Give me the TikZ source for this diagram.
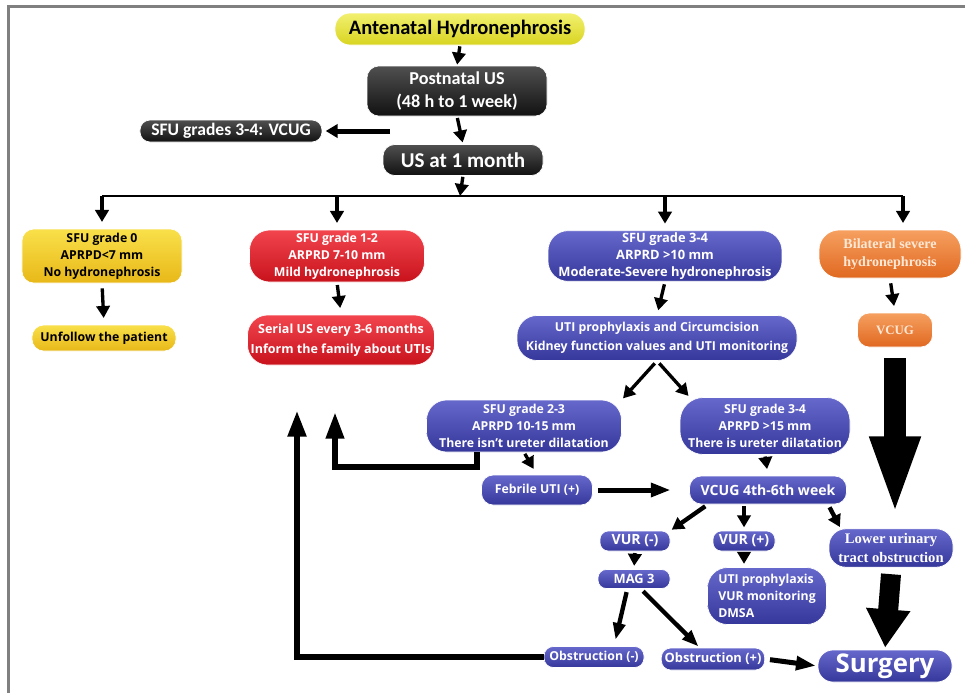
\documentclass[tikz,border=0pt]{standalone}
\usepackage{fontspec}
\setmainfont{Open Sans}
\newfontfamily\condfont{Carlito}
\newfontfamily\serfont{Liberation Serif}
\usetikzlibrary{arrows.meta}

\definecolor{bluetop}{HTML}{6668CC}
\definecolor{bluebot}{HTML}{35379A}
\definecolor{redtop}{HTML}{F2454E}
\definecolor{redbot}{HTML}{C8121C}
\definecolor{yeltop}{HTML}{F9E04A}
\definecolor{yelbot}{HTML}{E8B818}
\definecolor{antetop}{HTML}{F2F070}
\definecolor{antebot}{HTML}{D8D420}
\definecolor{oratop}{HTML}{F6A060}
\definecolor{orabot}{HTML}{E06820}
\definecolor{orapale}{HTML}{FCE8D5}
\definecolor{blktop}{HTML}{505050}
\definecolor{blkbot}{HTML}{111111}

\begin{document}
\begin{tikzpicture}[x=0.03cm,y=-0.03cm,
  box/.style={rounded corners=0.35cm, align=center, inner sep=0pt, draw=white, line width=0.6pt,
    font=\bfseries\fontsize{10.5}{14.5}\selectfont},
  bluebox/.style={box, top color=bluetop, bottom color=bluebot, text=white},
  redbox/.style={box, top color=redtop, bottom color=redbot, text=white},
  yelbox/.style={box, top color=yeltop, bottom color=yelbot, text=black},
  orabox/.style={box, top color=oratop, bottom color=orabot, text=orapale,
    font=\serfont\bfseries\fontsize{12}{15}\selectfont},
  blkbox/.style={box, top color=blktop, bottom color=blkbot, text=white,
    font=\condfont\bfseries\fontsize{15.5}{20}\selectfont},
  arr/.style={-{Triangle[length=0.36cm,width=0.4cm]}, line width=0.1cm,
    shorten <=0.15cm, shorten >=0.2cm},
  back/.style={-{Triangle[length=0.8cm,width=0.52cm]}, line width=0.2cm},
  big/.style={-{Triangle[length=2.4cm,width=1.35cm]}, line width=0.66cm},
]
\useasboundingbox (0,0) rectangle (965,693);
\draw[gray, line width=0.09cm] (965,6) -- (8,6) -- (8,693);

% top
\node[yelbox, top color=antetop, bottom color=antebot, minimum width=7.5cm, minimum height=0.96cm,
  rounded corners=0.45cm, font=\condfont\bfseries\fontsize{17.5}{19}\selectfont] (ante) at (460,29) {Antenatal Hydronephrosis};
\node[blkbox, minimum width=5.4cm, minimum height=1.5cm] (post) at (457,91) {Postnatal US\\(48 h to 1 week)};
\node[blkbox, minimum width=5.46cm, minimum height=0.66cm, rounded corners=0.3cm, font=\condfont\bfseries\fontsize{15}{17}\selectfont] (sfuv) at (231,131) {SFU grades 3-4: VCUG};
\node[blkbox, minimum width=4.8cm, minimum height=0.93cm, font=\condfont\bfseries\fontsize{18}{20}\selectfont] (usm) at (463,160) {US at 1 month};
\coordinate (lft) at (390,131);
\coordinate (bus) at (460,196);

% branches
\node[yelbox, minimum width=4.8cm, minimum height=1.62cm] (g0) at (102,256) {SFU grade 0\\APRPD<7 mm\\No hydronephrosis};
\node[yelbox, minimum width=4.32cm, minimum height=0.78cm] (unf) at (104,338) {Unfollow the patient};
\node[redbox, minimum width=5.25cm, minimum height=1.56cm, rounded corners=0.6cm] (g12) at (337,256) {SFU grade 1-2\\ARPRD 7-10 mm\\Mild hydronephrosis};
\node[redbox, minimum width=5.61cm, minimum height=1.5cm, rounded corners=0.6cm, font=\bfseries\fontsize{10.7}{17}\selectfont] (ser) at (341,340) {Serial US every 3-6 months\\Inform the family about UTIs};
\node[bluebox, minimum width=7.02cm, minimum height=1.52cm, rounded corners=0.6cm, font=\bfseries\fontsize{11}{14.5}\selectfont] (g34) at (665,256) {SFU grade 3-4\\ARPRD >10 mm\\Moderate-Severe hydronephrosis};
\node[bluebox, minimum width=8.4cm, minimum height=1.35cm, rounded corners=0.6cm, font=\bfseries\fontsize{10.5}{16}\selectfont] (uti) at (657,338) {UTI prophylaxis and Circumcision\\Kidney function values and UTI monitoring};
\node[orabox, minimum width=4.26cm, minimum height=1.44cm, rounded corners=0.6cm] (bil) at (890,254) {Bilateral severe\\hydronephrosis};
\node[orabox, minimum width=2.25cm, minimum height=1.02cm, font=\serfont\bfseries\fontsize{11}{13}\selectfont] (vcugo) at (895,330) {VCUG};
\coordinate (bilin) at ([xshift=0.39cm]bil.north);

% lower part
\node[bluebox, minimum width=5.85cm, minimum height=1.56cm, rounded corners=0.6cm] (g23) at (524,426) {SFU grade 2-3\\APRPD 10-15 mm\\There isn't ureter dilatation};
\node[bluebox, minimum width=5.1cm, minimum height=1.71cm, rounded corners=0.7cm] (g34b) at (765,426) {SFU grade 3-4\\APRPD >15 mm\\There is ureter dilatation};
\node[bluebox, minimum width=3.33cm, minimum height=0.9cm] (feb) at (537,490) {Febrile UTI (+)};
\node[bluebox, minimum width=4.71cm, minimum height=0.84cm, font=\bfseries\fontsize{12}{14}\selectfont] (vcug) at (768,490) {VCUG 4th-6th week};
\node[bluebox, minimum width=2.1cm, minimum height=0.6cm, rounded corners=0.25cm, font=\bfseries\fontsize{12}{14}\selectfont] (vurn) at (635,541) {VUR (-)};
\node[bluebox, minimum width=1.86cm, minimum height=0.6cm, rounded corners=0.25cm, font=\bfseries\fontsize{12}{14}\selectfont] (vurp) at (744,541) {VUR (+)};
\node[bluebox, minimum width=3.72cm, minimum height=1.15cm, rounded corners=0.5cm, font=\serfont\bfseries\fontsize{12.5}{15.5}\selectfont] (low) at (891,548) {Lower urinary\\tract obstruction};
\node[bluebox, minimum width=2.16cm, minimum height=0.57cm, rounded corners=0.25cm, font=\bfseries\fontsize{11}{13}\selectfont] (mag) at (634,579) {MAG 3};
\node[bluebox, minimum width=3.57cm, minimum height=1.71cm, rounded corners=0.6cm, align=left] (prop) at (767,596) {UTI prophylaxis\\VUR monitoring\\DMSA};
\node[bluebox, minimum width=3.0cm, minimum height=0.63cm, rounded corners=0.28cm, font=\bfseries\fontsize{10.5}{12}\selectfont] (obsn) at (594,657) {Obstruction (-)};
\node[bluebox, minimum width=3.1cm, minimum height=0.66cm, rounded corners=0.28cm, font=\bfseries\fontsize{11}{13}\selectfont] (obsp) at (713,659) {Obstruction (+)};
\node[bluebox, minimum width=4.02cm, minimum height=0.96cm, rounded corners=0.45cm, font=\bfseries\fontsize{22}{24}\selectfont] (surg) at (885,666) {Surgery};
\coordinate (back1) at (335,412);
\coordinate (back2) at (297,410);

% arrows
\draw[arr, shorten <=0.03cm, shorten >=0.03cm] (ante.south) -- (post.north);
\draw[arr, shorten <=0.05cm, shorten >=0.05cm] (post.south) -- (usm.north);
\draw[arr, line width=0.15cm, shorten <=0pt, shorten >=0.1cm] (lft) -- (sfuv.east);
\draw[arr, shorten <=0.03cm, shorten >=0pt] (usm.south) -- (bus);
\draw[line width=0.07cm] (g0.north |- bus) -- (bilin |- bus);
\draw[arr, shorten <=0pt] (g0.north |- bus) -- (g0.north);
\draw[arr, shorten <=0pt] (g12.north |- bus) -- (g12.north);
\draw[arr, shorten <=0pt] (g34.north |- bus) -- (g34.north);
\draw[arr, shorten <=0pt] (bilin |- bus) -- (bilin);
\draw[arr] (g0.south) -- (unf.north);
\draw[arr, shorten <=0.08cm] (g12.south) -- (ser.north);
\draw[arr, shorten <=0.08cm, shorten >=0.15cm] (g34.south) -- (uti.north);
\draw[arr] (bil.south) -- (vcugo.north);
\draw[arr, shorten <=0.1cm, shorten >=0.05cm] (uti.south) -- (g23.north east);
\draw[arr, shorten <=0.1cm, shorten >=0.05cm] (uti.south) -- ([xshift=0.3cm]g34b.north west);
\draw[big] ([yshift=-0.33cm]vcugo.south) -- ([yshift=0.36cm]vcugo.south |- low.north);
\draw[back, line width=0.18cm] ([xshift=-1.4cm]g23.south) -- ++(0,15) -| (back1);
\draw[arr, shorten <=0.05cm] (g23.south) -- (feb.north);
\draw[arr, line width=0.15cm, -{Triangle[length=0.6cm,width=0.4cm]}, shorten >=0.55cm] (feb.east) -- (vcug.west);
\draw[arr, shorten <=0.05cm] (g34b.south) -- (vcug.north);
\draw[arr, line width=0.13cm, shorten <=0.1cm, shorten >=0.05cm] ([xshift=-1.8cm]vcug.south) -- (vurn.north east);
\draw[arr, line width=0.13cm, shorten <=0.05cm, shorten >=0.1cm] (vcug.south -| vurp.north) -- (vurp.north);
\draw[arr, line width=0.13cm, shorten <=0.1cm, shorten >=0.05cm] ([xshift=1.8cm]vcug.south) -- ([xshift=0.36cm]low.north west);
\draw[arr, shorten <=0.05cm, shorten >=0.1cm] (vurn.south) -- (mag.north);
\draw[arr, shorten <=0.05cm, shorten >=0.1cm] (vurp.south) -- (vurp.south |- prop.north);
\draw[arr, line width=0.13cm, -{Triangle[length=0.5cm,width=0.36cm]}, shorten <=0.1cm]
  ([xshift=-0.2cm]mag.south) -- ([xshift=0.6cm]obsn.north);
\draw[arr, line width=0.13cm, -{Triangle[length=0.5cm,width=0.36cm]}, shorten <=0.1cm, shorten >=0.05cm]
  ([xshift=0.2cm]mag.south) -- ([xshift=-0.4cm]obsp.north);
\draw[arr, line width=0.15cm, -{Triangle[length=0.6cm,width=0.4cm]}, shorten >=0.05cm] (obsp.east) -- (surg.west);
\draw[big, line width=0.6cm, -{Triangle[length=1.15cm,width=1.25cm]}, shorten >=0.06cm]
  ([yshift=-0.2cm]low.south) -- (surg.north);
\draw[back] (obsn.west) -| (back2);
\end{tikzpicture}
\end{document}
